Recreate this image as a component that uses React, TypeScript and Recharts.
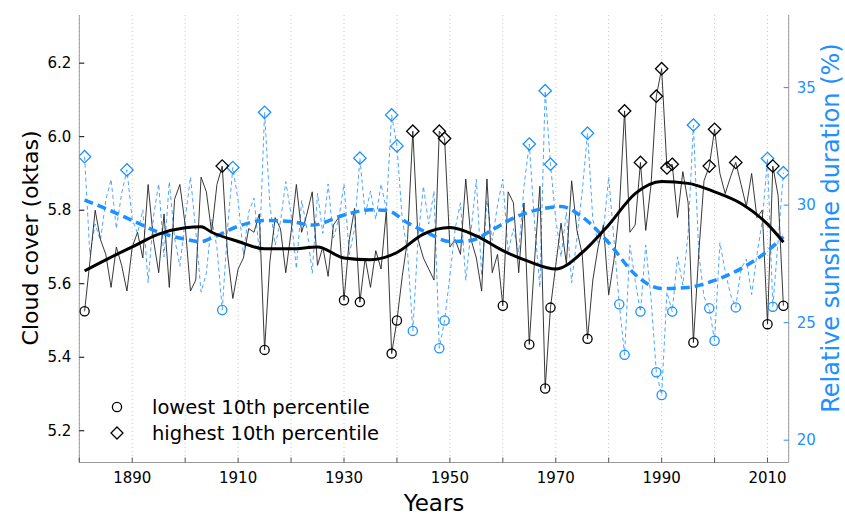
import { ComposedChart, Line, XAxis, YAxis, CartesianGrid } from "recharts";

// annual series, one value per year starting 1881
const FIRST_YEAR = 1881;

const cloudCover = [
  5.525, 5.66, 5.80, 5.72, 5.68, 5.59, 5.70, 5.65, 5.58, 5.70,
  5.74, 5.67, 5.87, 5.72, 5.63, 5.79, 5.59, 5.83, 5.87, 5.76,
  5.58, 5.61, 5.89, 5.85, 5.74, 5.87, 5.92, 5.68, 5.56, 5.64,
  5.67, 5.75, 5.74, 5.79, 5.42, 5.66, 5.78, 5.75, 5.63, 5.74,
  5.87, 5.74, 5.79, 5.85, 5.65, 5.70, 5.62, 5.76, 5.78, 5.555,
  5.72, 5.805, 5.55, 5.67, 5.59, 5.69, 5.64, 5.80, 5.41, 5.50,
  5.62, 5.72, 6.015, 5.72, 5.67, 5.64, 5.61, 6.015, 5.995, 5.70,
  5.72, 5.68, 5.885, 5.72, 5.67, 5.58, 5.885, 5.63, 5.68, 5.54,
  5.85, 5.82, 5.63, 5.82, 5.435, 5.665, 5.865, 5.315, 5.535, 5.65,
  5.765, 5.655, 5.88, 5.745, 5.68, 5.45, 5.61, 5.70, 5.76, 5.57,
  5.665, 5.80, 6.07, 5.74, 5.76, 5.93, 5.745, 5.87, 6.11, 6.185,
  5.915, 5.925, 5.78, 5.905, 5.82, 5.44, 5.68, 5.88, 5.92, 6.02,
  5.90, 5.845, 5.89, 5.93, 5.87, 5.81, 5.90, 5.78, 5.80, 5.49,
  5.92, 5.84, 5.54,
];

const sunshine = [
  32.06, 27.9, 29.2, 28.5, 30.2, 31.1, 29.0, 30.5, 31.5, 29.4,
  28.8, 29.8, 26.7, 29.5, 30.9, 27.8, 31.0, 28.6, 27.4, 29.4,
  31.2, 28.9, 26.3, 27.1, 29.4, 28.2, 25.54, 29.0, 31.6, 30.2,
  27.9, 29.7, 30.3, 28.0, 33.95, 30.0, 28.3, 29.3, 31.0, 29.6,
  27.3, 30.2, 29.0, 27.1, 30.5, 28.8, 30.9, 28.6, 29.4, 30.9,
  27.9, 29.0, 32.0, 29.6, 30.6, 29.4, 30.9, 29.8, 33.84, 32.52,
  29.4, 28.0, 24.65, 28.6, 30.8, 29.2, 30.6, 23.91, 25.09, 27.0,
  29.0, 30.1, 26.8, 28.9, 31.1, 27.0, 30.2, 28.5, 30.0, 31.1,
  28.0, 29.0, 28.0, 30.8, 32.6, 29.2, 26.5, 34.87, 31.74, 29.4,
  27.8, 29.7, 26.7, 28.6, 30.6, 33.06, 29.4, 28.4, 28.9, 31.2,
  28.5, 25.78, 23.63, 28.3, 26.8, 25.47, 28.3, 26.0, 22.89, 21.92,
  26.3, 25.47, 27.8, 26.6, 28.8, 33.41, 28.0, 26.1, 25.61, 24.23,
  28.4, 27.2, 26.2, 25.65, 27.3, 27.7, 26.2, 27.9, 29.3, 31.98,
  25.68, 28.5, 31.38,
];

const cloudLowYears = [1881, 1915, 1930, 1933, 1939, 1940, 1960, 1965, 1968, 1969, 1976, 1996, 2010, 2013];
const cloudHighYears = [1907, 1943, 1948, 1949, 1983, 1986, 1989, 1990, 1991, 1992, 1999, 2000, 2004, 2011];
const sunLowYears = [1907, 1943, 1948, 1949, 1982, 1983, 1986, 1989, 1990, 1992, 1999, 2000, 2004, 2011];
const sunHighYears = [1881, 1889, 1909, 1915, 1933, 1939, 1940, 1965, 1968, 1969, 1976, 1996, 2010, 2013];

// smoothed trends
const cloudTrendYears = [1881, 1885, 1890, 1895, 1900, 1903, 1905, 1910, 1915, 1920, 1925, 1930, 1935, 1940, 1945, 1950, 1955, 1960, 1965, 1970, 1975, 1980, 1985, 1990, 1995, 2000, 2005, 2010, 2013];
const cloudTrend = [5.635, 5.665, 5.70, 5.735, 5.752, 5.755, 5.74, 5.715, 5.695, 5.695, 5.70, 5.67, 5.665, 5.685, 5.735, 5.753, 5.73, 5.69, 5.66, 5.64, 5.685, 5.76, 5.845, 5.878, 5.873, 5.85, 5.818, 5.762, 5.713];

const sunTrendYears = [1881, 1885, 1890, 1895, 1900, 1903, 1905, 1910, 1915, 1920, 1924, 1930, 1935, 1938, 1942, 1946, 1950, 1954, 1958, 1962, 1968, 1971, 1975, 1980, 1985, 1990, 1995, 2000, 2005, 2010, 2013];
const sunTrend = [30.22, 29.85, 29.35, 28.85, 28.55, 28.45, 28.6, 29.1, 29.35, 29.3, 29.15, 29.58, 29.8, 29.78, 29.25, 28.8, 28.45, 28.5, 28.95, 29.45, 29.87, 29.94, 29.5, 28.4, 27.05, 26.45, 26.5, 26.8, 27.3, 28.05, 28.66];

const decadeTicks = [1880, 1890, 1900, 1910, 1920, 1930, 1940, 1950, 1960, 1970, 1980, 1990, 2000, 2010];
const labelledYears = [1890, 1910, 1930, 1950, 1970, 1990, 2010];
const cloudTicks = [5.2, 5.4, 5.6, 5.8, 6.0, 6.2];
const sunTicks = [20, 25, 30, 35];

const rawData = cloudCover.map((c, i) => ({ year: FIRST_YEAR + i, cloud: c, sun: sunshine[i] }));
const cloudTrendData = cloudTrendYears.map((year, i) => ({ year, trend: cloudTrend[i] }));
const sunTrendData = sunTrendYears.map((year, i) => ({ year, trend: sunTrend[i] }));

const BLUE = "#1E90FF";
const FRAME = "#9a9a9a";
const FONT = "DejaVu Sans";

function makeDot(low: number[], high: number[], color: string) {
  return (props: any) => {
    const { cx, cy, payload, index } = props;
    const key = `d-${index}`;
    if (low.includes(payload.year)) {
      return <circle key={key} cx={cx} cy={cy} r={4.6} fill="none" stroke={color} strokeWidth={1.3} />;
    }
    if (high.includes(payload.year)) {
      const s = 6.2;
      return (
        <path
          key={key}
          d={`M${cx},${cy - s}L${cx + s},${cy}L${cx},${cy + s}L${cx - s},${cy}Z`}
          fill="none"
          stroke={color}
          strokeWidth={1.3}
        />
      );
    }
    return <g key={key} />;
  };
}

const BottomTick = (props: any) => {
  const { x, y, payload } = props;
  return (
    <g>
      <line x1={x} x2={x} y1={y} y2={y - 5} stroke="#555" />
      {labelledYears.includes(payload.value) && (
        <text x={x} y={y + 20} textAnchor="middle" fontSize={15} fontFamily={FONT} fill="#000">
          {payload.value}
        </text>
      )}
    </g>
  );
};

const TopTick = (props: any) => {
  const { x, y } = props;
  return <line x1={x} x2={x} y1={y} y2={y + 5} stroke="#555" />;
};

const LeftTick = (props: any) => {
  const { x, y, payload } = props;
  return (
    <g>
      <line x1={x} x2={x + 5} y1={y} y2={y} stroke="#000" />
      <text x={x - 8} y={y} dy={5} textAnchor="end" fontSize={15} fontFamily={FONT} fill="#000">
        {payload.value.toFixed(1)}
      </text>
    </g>
  );
};

const RightTick = (props: any) => {
  const { x, y, payload } = props;
  return (
    <g>
      <line x1={x} x2={x - 5} y1={y} y2={y} stroke={BLUE} />
      <text x={x + 8} y={y} dy={5} textAnchor="start" fontSize={15} fontFamily={FONT} fill={BLUE}>
        {payload.value}
      </text>
    </g>
  );
};

export default function App() {
  return (
    <div style={{ position: "absolute", left: 0, top: 0, width: 845, height: 516, background: "#fff" }}>
      <ComposedChart width={845} height={516} margin={{ top: 15, right: 0.3, left: 0.3, bottom: 0 }}>
        <CartesianGrid horizontal={false} stroke="#c8c8c8" strokeDasharray="1 3" />
        <XAxis
          dataKey="year"
          type="number"
          domain={[1880, 2014]}
          ticks={decadeTicks}
          interval={0}
          allowDataOverflow
          height={53.5}
          axisLine={{ stroke: FRAME }}
          tickLine={false}
          tickSize={0}
          tickMargin={0}
          tick={(p: any) => <BottomTick {...p} />}
        />
        <XAxis
          xAxisId="top"
          orientation="top"
          dataKey="year"
          type="number"
          domain={[1880, 2014]}
          ticks={decadeTicks}
          interval={0}
          allowDataOverflow
          height={0}
          axisLine={{ stroke: FRAME }}
          tickLine={false}
          tickSize={0}
          tickMargin={0}
          tick={(p: any) => <TopTick {...p} />}
        />
        <YAxis
          yAxisId="left"
          type="number"
          domain={[5.1137, 6.331]}
          ticks={cloudTicks}
          interval={0}
          allowDataOverflow
          width={79}
          axisLine={{ stroke: FRAME }}
          tickLine={false}
          tickSize={0}
          tickMargin={0}
          tick={(p: any) => <LeftTick {...p} />}
        />
        <YAxis
          yAxisId="right"
          orientation="right"
          type="number"
          domain={[19.05, 38.09]}
          ticks={sunTicks}
          interval={0}
          allowDataOverflow
          width={56}
          axisLine={{ stroke: FRAME }}
          tickLine={false}
          tickSize={0}
          tickMargin={0}
          tick={(p: any) => <RightTick {...p} />}
        />
        <Line
          data={rawData}
          dataKey="sun"
          yAxisId="right"
          stroke={BLUE}
          strokeOpacity={0.8}
          strokeWidth={1}
          strokeDasharray="4 3"
          dot={makeDot(sunLowYears, sunHighYears, BLUE)}
          activeDot={false}
          isAnimationActive={false}
        />
        <Line
          data={rawData}
          dataKey="cloud"
          yAxisId="left"
          stroke="#222"
          strokeWidth={0.9}
          dot={makeDot(cloudLowYears, cloudHighYears, "#000")}
          activeDot={false}
          isAnimationActive={false}
        />
        <Line
          data={sunTrendData}
          dataKey="trend"
          yAxisId="right"
          type="monotone"
          stroke={BLUE}
          strokeWidth={3.5}
          strokeDasharray="9 5"
          dot={false}
          activeDot={false}
          isAnimationActive={false}
        />
        <Line
          data={cloudTrendData}
          dataKey="trend"
          yAxisId="left"
          type="monotone"
          stroke="#000"
          strokeWidth={3}
          dot={false}
          activeDot={false}
          isAnimationActive={false}
        />
      </ComposedChart>
      <svg
        width={845}
        height={516}
        style={{ position: "absolute", left: 0, top: 0, pointerEvents: "none" }}
        fontFamily={FONT}
      >
        <text x={30} y={238} transform="rotate(-90 30 238)" textAnchor="middle" dominantBaseline="central" fontSize={22} fill="#000">
          Cloud cover (oktas)
        </text>
        <text x={831} y={228} transform="rotate(-90 831 228)" textAnchor="middle" dominantBaseline="central" fontSize={24} fill={BLUE}>
          Relative sunshine duration (%)
        </text>
        <text x={434} y={503} textAnchor="middle" dominantBaseline="central" fontSize={23} fill="#000">
          Years
        </text>
        <circle cx={117} cy={407} r={4.6} fill="none" stroke="#000" strokeWidth={1.3} />
        <text x={152} y={407} dominantBaseline="central" fontSize={19.5} fill="#000">
          lowest 10th percentile
        </text>
        <path d="M117,427 L123,433 L117,439 L111,433 Z" fill="none" stroke="#000" strokeWidth={1.3} />
        <text x={152} y={433} dominantBaseline="central" fontSize={19.5} fill="#000">
          highest 10th percentile
        </text>
      </svg>
    </div>
  );
}
